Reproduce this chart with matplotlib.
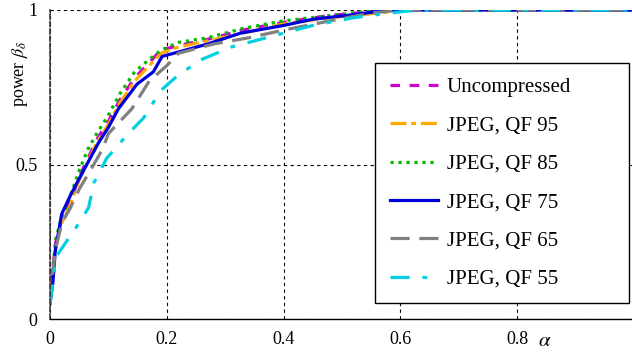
import matplotlib.pyplot as plt
import numpy as np

plt.rcParams['font.family'] = ['Liberation Serif', 'DejaVu Serif']
plt.rcParams['mathtext.fontset'] = 'stix'

# ROC-like curves
x_unc = [0, 0.004, 0.01, 0.02, 0.035, 0.05, 0.065, 0.08, 0.1, 0.12, 0.145, 0.17, 0.19, 0.22, 0.27, 0.33, 0.4, 0.47, 0.55, 0.6, 1.0]
y_unc = [0.05, 0.15, 0.25, 0.32, 0.38, 0.46, 0.52, 0.58, 0.64, 0.71, 0.78, 0.83, 0.87, 0.885, 0.905, 0.935, 0.96, 0.98, 0.995, 1.0, 1.0]

x_q95 = [0, 0.004, 0.01, 0.02, 0.035, 0.05, 0.065, 0.08, 0.1, 0.12, 0.145, 0.17, 0.19, 0.22, 0.27, 0.33, 0.4, 0.48, 0.56, 0.61, 1.0]
y_q95 = [0.05, 0.14, 0.24, 0.31, 0.37, 0.45, 0.51, 0.57, 0.63, 0.70, 0.77, 0.82, 0.86, 0.88, 0.9, 0.925, 0.955, 0.975, 0.99, 1.0, 1.0]

x_q85 = [0, 0.004, 0.01, 0.02, 0.035, 0.05, 0.065, 0.08, 0.1, 0.12, 0.145, 0.17, 0.19, 0.22, 0.27, 0.33, 0.4, 0.47, 0.54, 0.59, 1.0]
y_q85 = [0.05, 0.15, 0.26, 0.33, 0.40, 0.48, 0.55, 0.6, 0.66, 0.73, 0.8, 0.84, 0.87, 0.895, 0.91, 0.94, 0.965, 0.98, 0.995, 1.0, 1.0]

x_q75 = [0, 0.005, 0.009, 0.02, 0.035, 0.046, 0.063, 0.083, 0.1, 0.117, 0.149, 0.177, 0.192, 0.212, 0.27, 0.326, 0.4, 0.45, 0.52, 0.58, 1.0]
y_q75 = [0.05, 0.12, 0.22, 0.34, 0.40, 0.44, 0.50, 0.57, 0.62, 0.68, 0.76, 0.80, 0.85, 0.86, 0.89, 0.925, 0.95, 0.97, 0.985, 1.0, 1.0]

x_q65 = [0, 0.004, 0.01, 0.02, 0.035, 0.05, 0.075, 0.09, 0.1, 0.12, 0.14, 0.17, 0.2, 0.22, 0.28, 0.34, 0.4, 0.48, 0.55, 0.6, 1.0]
y_q65 = [0.05, 0.14, 0.23, 0.31, 0.36, 0.42, 0.50, 0.55, 0.6, 0.64, 0.68, 0.77, 0.82, 0.86, 0.89, 0.91, 0.935, 0.965, 0.99, 1.0, 1.0]

x_q55 = [0, 0.005, 0.01, 0.03, 0.046, 0.066, 0.075, 0.097, 0.134, 0.16, 0.19, 0.22, 0.26, 0.31, 0.35, 0.4, 0.45, 0.52, 0.58, 0.63, 1.0]
y_q55 = [0.05, 0.12, 0.2, 0.256, 0.30, 0.36, 0.44, 0.52, 0.60, 0.65, 0.74, 0.79, 0.84, 0.88, 0.9, 0.925, 0.95, 0.975, 0.99, 1.0, 1.0]

labels = ['Uncompressed', 'JPEG, QF 95', 'JPEG, QF 85', 'JPEG, QF 75', 'JPEG, QF 65', 'JPEG, QF 55']
colors = ['#cc00cc', '#ffaa00', '#00bb00', '#0000dd', '#808080', '#00d0e0']
styles = [(0, (3, 3)), (0, (5, 1.5, 1.5, 1.5)), (0, (1, 1.5)), '-', (0, (6, 3)), (0, (6, 4, 1.5, 4))]
series = [(x_unc, y_unc), (x_q95, y_q95), (x_q85, y_q85), (x_q75, y_q75), (x_q65, y_q65), (x_q55, y_q55)]

fig = plt.figure(figsize=(6.32, 3.52), dpi=100)
ax = fig.add_axes([50 / 632, 33 / 352, 584 / 632, 309 / 352])

for (xs, ys), lab, col, ls in zip(series, labels, colors, styles):
    ax.plot(xs, ys, color=col, linestyle=ls, linewidth=2.3, label=lab)

ax.set_xlim(0, 1)
ax.set_ylim(0, 1)
ax.set_xticks([0, 0.2, 0.4, 0.6, 0.8])
ax.set_xticklabels(['0', '0.2', '0.4', '0.6', '0.8'])
ax.set_yticks([0, 0.5, 1])
ax.set_yticklabels(['0', '0.5', '1'])
ax.tick_params(length=0, labelsize=13, pad=9)
ax.grid(True, color='black', linestyle=(0, (3, 3)), linewidth=0.8)

for s in ['top', 'right']:
    ax.spines[s].set_visible(False)
ax.spines['left'].set_linestyle((0, (3, 1.5)))
ax.spines['left'].set_color('#333333')
ax.spines['left'].set_linewidth(1.2)
ax.spines['bottom'].set_linewidth(1.0)

# y label sits near the top, alpha sits at lower right
fig.text(20 / 632, 1 - 74 / 352, r'power $\beta_\delta$', rotation=90, fontsize=13, ha='center', va='center')
fig.text(545 / 632, 1 - 342 / 352, r'$\alpha$', fontsize=15, ha='center', va='center')

# legend box is wider than its text, so let it expand to a fixed width
leg = ax.legend(loc='upper left', bbox_to_anchor=(375 / 632, 49 / 352, 254 / 632, 240 / 352),
                bbox_transform=fig.transFigure, mode='expand',
                borderaxespad=0, fontsize=15, handlelength=2.3, fancybox=False, framealpha=1,
                edgecolor='black', labelspacing=0.9, borderpad=0.7, handletextpad=0.45)
leg.get_frame().set_linewidth(1.0)

plt.savefig('out.png', dpi=100)
